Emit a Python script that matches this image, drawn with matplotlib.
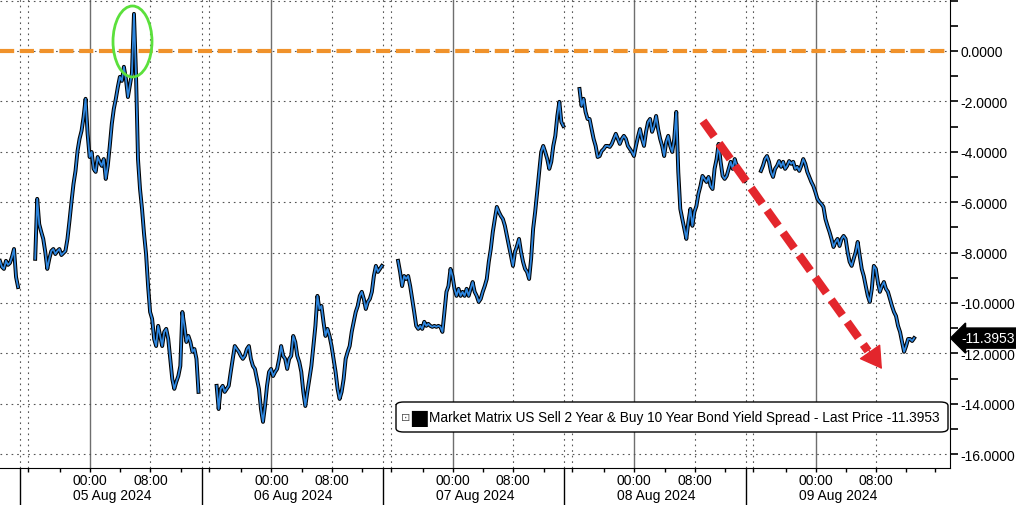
import matplotlib
matplotlib.use('Agg')
import matplotlib.pyplot as plt
import matplotlib.dates as mdates
from matplotlib.patches import Ellipse, FancyBboxPatch
from matplotlib.ticker import FuncFormatter
import pandas as pd

plt.rcParams['font.family'] = ['Liberation Sans', 'DejaVu Sans']

# 2s10s spread, one value every 16 minutes, one list per trading session
s1_start = '2024-08-04 12:05'
s1 = [-8.33, -8.57, -8.65, -8.33, -8.49, -8.41, -8.17, -7.86, -8.97, -9.37]

s2_start = '2024-08-04 16:45'
s2 = [-8.25, -5.87, -6.87, -7.18, -7.46, -7.98, -8.65, -8.25, -7.94, -7.86,
      -8.06, -7.94, -7.86, -8.10, -8.02, -7.94, -7.46, -6.75, -5.99, -5.28,
      -4.76, -3.97, -3.49, -3.17, -2.62, -1.90, -3.29, -4.21, -4.01, -4.68,
      -4.80, -4.21, -4.40, -4.56, -4.29, -5.08, -4.56, -3.77, -2.90, -2.30,
      -1.90, -1.43, -1.03, -1.19, -0.63, -1.11, -1.83, -1.35, -0.87, 1.47,
      -0.90, -4.30, -5.48, -6.27, -7.26, -8.06, -9.33, -10.36, -10.63, -11.43,
      -11.71, -10.91, -11.31, -11.71, -11.15, -11.03, -11.43, -12.22, -13.02, -13.41,
      -13.13, -12.90, -12.50, -10.36, -10.91, -11.55, -11.31, -11.55, -11.94, -11.83,
      -12.22, -13.53]

s3_start = '2024-08-05 16:45'
s3 = [-13.29, -14.21, -13.41, -13.29, -13.53, -13.41, -13.29, -12.74, -12.22, -11.71,
      -11.83, -11.94, -12.10, -12.22, -12.10, -11.83, -11.71, -12.22, -12.50, -12.62,
      -13.02, -13.41, -14.21, -14.72, -14.09, -13.29, -12.74, -12.62, -12.90, -12.74,
      -12.62, -12.22, -11.71, -12.10, -12.22, -12.62, -12.22, -12.10, -11.31, -11.55,
      -12.10, -12.34, -12.74, -13.53, -14.09, -13.53, -13.02, -12.50, -11.71, -10.91,
      -9.72, -10.24, -10.12, -10.75, -11.31, -11.03, -11.31, -11.71, -12.22, -12.74,
      -13.41, -13.81, -13.53, -13.02, -12.22, -11.94, -11.71, -11.15, -10.75, -10.36,
      -10.12, -9.72, -9.56, -9.84, -10.24, -9.96, -9.84, -9.56, -8.93, -8.53,
      -8.77, -8.65, -8.53]

s4_start = '2024-08-06 16:45'
s4 = [-8.33, -8.77, -9.33, -8.93, -9.05, -8.93, -9.33, -9.84, -10.36, -10.91,
      -11.03, -10.91, -11.03, -10.75, -10.91, -10.83, -10.91, -10.95, -10.91, -10.95,
      -10.91, -10.95, -11.15, -10.36, -9.56, -9.33, -8.65, -8.93, -9.44, -9.72,
      -9.44, -9.72, -9.56, -9.72, -9.44, -9.72, -9.44, -9.17, -9.56, -9.72,
      -9.96, -9.84, -9.56, -9.33, -9.05, -8.37, -7.86, -7.18, -6.67, -6.19,
      -6.39, -6.55, -6.67, -6.94, -7.34, -7.74, -8.13, -8.53, -7.98, -7.74,
      -7.46, -7.98, -8.37, -8.65, -8.77, -9.05, -8.25, -7.06, -6.39, -5.60,
      -4.80, -4.01, -3.77, -4.01, -4.29, -4.68, -4.40, -3.77, -3.37, -2.58,
      -2.02, -2.82, -2.98]

s5_start = '2024-08-07 16:45'
s5 = [-1.51, -2.18, -1.90, -2.42, -2.70, -2.70, -3.10, -3.49, -3.77, -4.21,
      -4.17, -3.97, -3.89, -3.77, -3.77, -3.81, -3.69, -3.49, -3.29, -3.49,
      -3.69, -3.49, -3.37, -3.49, -3.77, -3.89, -4.01, -4.17, -3.77, -3.41,
      -3.10, -3.49, -3.77, -3.21, -2.82, -2.70, -3.21, -2.98, -2.58, -3.10,
      -3.49, -3.77, -4.17, -3.61, -3.37, -3.77, -4.01, -3.49, -2.42, -4.80,
      -6.27, -6.67, -7.06, -7.46, -6.79, -6.27, -6.94, -6.39, -6.15, -5.67,
      -5.36, -4.96, -5.08, -5.20, -5.00, -5.36, -5.48, -4.68, -4.29, -3.69,
      -4.40, -4.96, -5.08, -4.96, -4.68, -4.40, -4.68, -4.29, -4.56, -4.80,
      -4.96, -5.08, -5.16]

s6_start = '2024-08-08 16:45'
s6 = [-4.76, -4.56, -4.29, -4.17, -4.40, -4.80, -5.00, -4.68, -4.56, -4.37,
      -4.60, -4.40, -4.68, -4.56, -4.37, -4.48, -4.40, -4.68, -4.60, -4.76,
      -4.56, -4.29, -4.48, -4.80, -5.00, -5.20, -5.36, -5.60, -5.87, -5.99,
      -6.07, -6.19, -6.67, -6.94, -7.18, -7.46, -7.78, -7.58, -7.46, -7.74,
      -7.46, -7.34, -7.46, -7.98, -8.37, -8.53, -8.25, -7.98, -7.58, -8.13,
      -8.65, -8.93, -9.33, -9.72, -9.96, -9.44, -8.53, -8.65, -9.17, -9.56,
      -9.33, -9.17, -9.44, -9.56, -9.84, -10.12, -10.36, -10.52, -10.91, -11.15,
      -11.55, -11.94, -11.71, -11.43, -11.43, -11.51, -11.3953]

last_price = -11.3953
day_labels = ['05 Aug 2024', '06 Aug 2024', '07 Aug 2024', '08 Aug 2024', '09 Aug 2024']
legend_text = ('Market Matrix US Sell 2 Year & Buy 10 Year Bond Yield Spread'
               ' - Last Price -11.3953')

sessions = [(s1_start, s1), (s2_start, s2), (s3_start, s3),
            (s4_start, s4), (s5_start, s5), (s6_start, s6)]

fig = plt.figure(figsize=(10.16, 5.06), dpi=100)
ax = fig.add_axes([0, 37 / 506, 950 / 1016, 469 / 506])

x_start = pd.Timestamp('2024-08-04 12:05:43')
x_end = pd.Timestamp('2024-08-09 17:45:30')
ax.set_xlim(x_start, x_end)
ax.set_ylim(-16.55, 2.06)

# grid: horizontal dotted, midnight solid, 08:00 and session breaks dotted
dot = (0, (1.5, 3.5))
ax.grid(axis='y', which='major', color='#555555', linestyle=dot, linewidth=0.8)
days = pd.date_range('2024-08-04', '2024-08-09', freq='D')
for d in days:
    if d > x_start:
        ax.axvline(d, color='#6e6e6e', lw=1.0, zorder=1)
        ax.axvline(d + pd.Timedelta(hours=8), color='#555555', lw=0.8, ls=dot, zorder=1)
    if d < days[-1]:
        ax.axvline(d + pd.Timedelta('14h45min'), color='#555555', lw=0.8, ls=dot, zorder=1)
        ax.axvline(d + pd.Timedelta('15h45min'), color='#555555', lw=0.8, ls=dot, zorder=1)

# zero line
ax.axhline(0, color='#F0922B', lw=3, dashes=(3.4, 1.35), zorder=3)

# spread
for start, vals in sessions:
    t = pd.date_range(start, periods=len(vals), freq='16min')
    ax.plot(t, vals, color='black', lw=2.8, zorder=4)
    ax.plot(t, vals, color='#2E86DE', lw=1.3, zorder=5)

# y axis on the right
ax.yaxis.tick_right()
ax.set_yticks(range(-16, 3, 2))
ax.set_yticks(range(-15, 2, 2), minor=True)
ax.yaxis.set_major_formatter(FuncFormatter(lambda v, p: '' if v > 0 else f'{v:.4f}'))
ax.tick_params(axis='y', which='both', direction='out', length=6, width=1.2,
               pad=1.5, labelsize=10, colors='black')

# x axis: long ticks at session breaks, short ticks every 4 hours
major_x = [d + pd.Timedelta('14h45min') for d in days[:-1]]
minor_x = []
for d in days:
    for h in ['0h', '4h', '8h', '12h', '15h45min', '20h']:
        t = d + pd.Timedelta(h)
        if x_start < t < x_end and t not in major_x:
            minor_x.append(t)
ax.set_xticks(mdates.date2num(major_x))
ax.set_xticks(mdates.date2num(minor_x), minor=True)
ax.xaxis.set_major_formatter(FuncFormatter(lambda v, p: ''))


def hhmm(v, p):
    m = int(round((v % 1) * 1440))
    return {0: '00:00', 480: '08:00'}.get(m, '')


ax.xaxis.set_minor_formatter(FuncFormatter(hhmm))
ax.tick_params(axis='x', which='major', direction='out', length=27, width=1.0)
ax.tick_params(axis='x', which='minor', direction='out', length=3, width=1.0,
               pad=0.3, labelsize=10)

for d, lab in zip(days[1:], day_labels):
    ax.annotate(lab, xy=(mdates.date2num(d), 0), xycoords=('data', 'axes fraction'),
                xytext=(-17, -27), textcoords='offset pixels', ha='left',
                va='center', fontsize=10, annotation_clip=False)

for side in ['left', 'top']:
    ax.spines[side].set_visible(False)
ax.spines['right'].set_color('black')
ax.spines['bottom'].set_color('black')

# last price tag
ax.text(1.012, last_price, f'{last_price:.4f}', transform=ax.get_yaxis_transform(),
        color='white', fontsize=10, ha='left', va='center', zorder=10,
        bbox=dict(boxstyle='larrow,pad=0.22', fc='black', ec='black'))

# legend box
ax.add_patch(FancyBboxPatch((396 / 950, 36 / 469), 552 / 950, 30 / 469,
                            boxstyle='round,pad=0,rounding_size=0.008',
                            transform=ax.transAxes, fc='white', ec='black', lw=1.0,
                            zorder=8))
ax.text(406 / 950, 51 / 469, '\u22a1', transform=ax.transAxes, fontsize=8,
        color='#555555', ha='center', va='center', zorder=9)
ax.text(419 / 950, 51 / 469, '\u25a0', transform=ax.transAxes, fontsize=15,
        family='DejaVu Sans', color='black', ha='center', va='center', zorder=9)
ax.text(429 / 950, 51 / 469, legend_text, transform=ax.transAxes, fontsize=9.8,
        color='black', ha='left', va='center', zorder=9)

# annotations: circle around the spike, red down arrow
ax.add_patch(Ellipse((132.5 / 950, 426.5 / 469), 39 / 950, 71 / 469,
                     transform=ax.transAxes, fill=False, ec='#5BE03C', lw=2.0,
                     zorder=7))
red = '#E3262C'
ax.plot([703 / 950, 868 / 950], [347 / 469, 117 / 469], transform=ax.transAxes,
        color=red, lw=6, dashes=(2.3, 1.0), zorder=7)
ax.annotate('', xy=(882 / 950, 99 / 469), xytext=(868 / 950, 119 / 469),
            xycoords='axes fraction', textcoords='axes fraction',
            arrowprops=dict(arrowstyle='-|>,head_length=1.0,head_width=0.6',
                            color=red, lw=1, mutation_scale=14,
                            shrinkA=0, shrinkB=0), zorder=7)

fig.savefig('out.png', dpi=100, facecolor='white')
